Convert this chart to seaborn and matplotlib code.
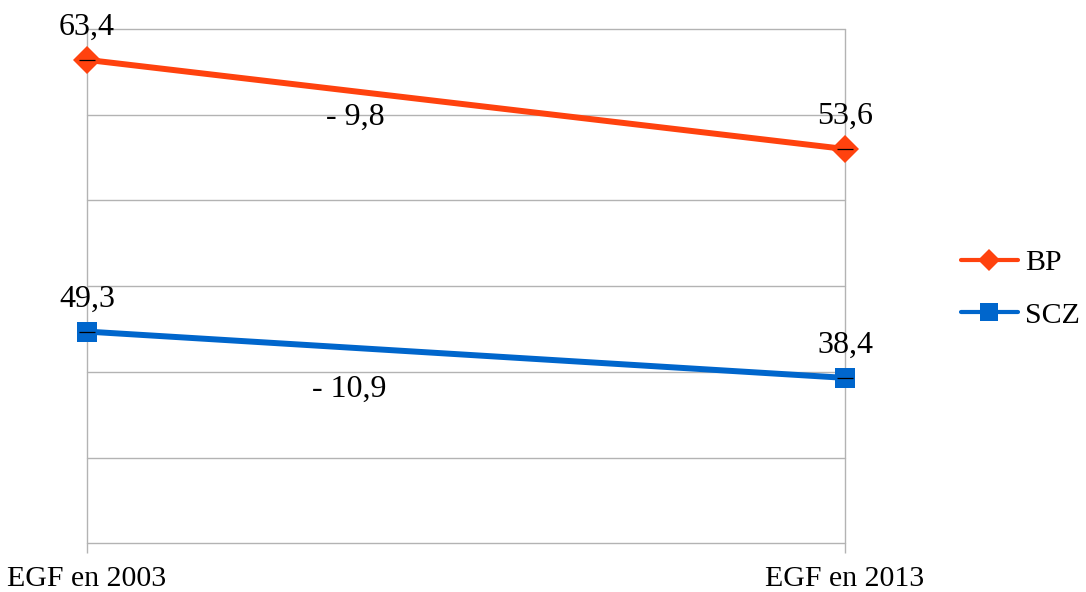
import matplotlib
matplotlib.use("Agg")
import matplotlib.pyplot as plt
import seaborn as sns
import pandas as pd
from matplotlib.lines import Line2D

categories = ["EGF en 2003", "EGF en 2013"]
series_names = ["BP", "SCZ"]
bp_plot = [56.4, 46.0]          # plotted positions
scz_plot = [24.7, 19.3]
bp_labels = ["63,4", "53,6"]    # data labels as printed
scz_labels = ["49,3", "38,4"]
diff_labels = ["- 9,8", "- 10,9"]
diff_pos = [(0.354, 48.8), (0.346, 17.1)]
colors = ["#FF420E", "#0066CC"]
markers = ["D", "s"]

df = pd.DataFrame({
    "x": [0, 1, 0, 1],
    "value": bp_plot + scz_plot,
    "serie": ["BP", "BP", "SCZ", "SCZ"],
})

sns.set_theme(style="white")
plt.rcParams["font.family"] = ["Liberation Serif", "DejaVu Serif"]
plt.rcParams["text.color"] = "black"
plt.rcParams["xtick.color"] = "#b3b3b3"
plt.rcParams["xtick.labelcolor"] = "black"

FS = 23
FS2 = 21.5

fig = plt.figure(figsize=(10.86, 5.92), dpi=100)
ax = fig.add_axes([87 / 1086, 1 - 543.3 / 592, (845 - 87) / 1086, (543.3 - 29) / 592])

sns.lineplot(data=df, x="x", y="value", hue="serie", style="serie",
             palette=dict(zip(series_names, colors)),
             markers=dict(zip(series_names, markers)), dashes=False,
             linewidth=4.3, markersize=14, markeredgewidth=0, ax=ax, legend=False,
             clip_on=False, zorder=4)

for vals in (bp_plot, scz_plot):
    ax.plot([0, 1], vals, linestyle="none", marker="_", color="black",
            markersize=11, markeredgewidth=0.9, zorder=5, clip_on=False)

for vals, labs in ((bp_plot, bp_labels), (scz_plot, scz_labels)):
    for i, (v, t) in enumerate(zip(vals, labs)):
        ax.annotate(t, (i, v), xytext=(0, 18), textcoords="offset points",
                    ha="center", va="baseline", fontsize=FS, color="black",
                    annotation_clip=False)

for (x, y), t in zip(diff_pos, diff_labels):
    ax.text(x, y, t, ha="center", va="baseline", fontsize=FS, color="black")

ax.set_xlim(0, 1)
ax.set_ylim(0, 60)
ax.set_yticks([0, 10, 20, 30, 40, 50, 60])
ax.set_yticklabels([])
ax.set_xticks([0, 1])
ax.set_xticklabels(categories, fontsize=FS2, color="black")
ax.set_xlabel("")
ax.set_ylabel("")
ax.grid(True, color="#b3b3b3", linewidth=1)
for gl in ax.get_xgridlines() + ax.get_ygridlines():
    gl.set_clip_on(False)
ax.tick_params(axis="x", length=7, width=1, color="#b3b3b3", direction="out", pad=9, bottom=True)
ax.tick_params(axis="y", length=0)
for s in ax.spines.values():
    s.set_visible(False)

handles = [Line2D([0], [0], color=c, marker=m, linewidth=3, markersize=(11 if m == "D" else 13),
                  markeredgewidth=0) for c, m in zip(colors, markers)]
fig.legend(handles, series_names, loc="center left", bbox_to_anchor=(961 / 1086, 1 - 289 / 592),
           frameon=False, fontsize=FS2, handlelength=1.9, handletextpad=0.25,
           labelspacing=0.85, borderpad=0, borderaxespad=0, labelcolor="black")

fig.savefig("out.png", dpi=100)
